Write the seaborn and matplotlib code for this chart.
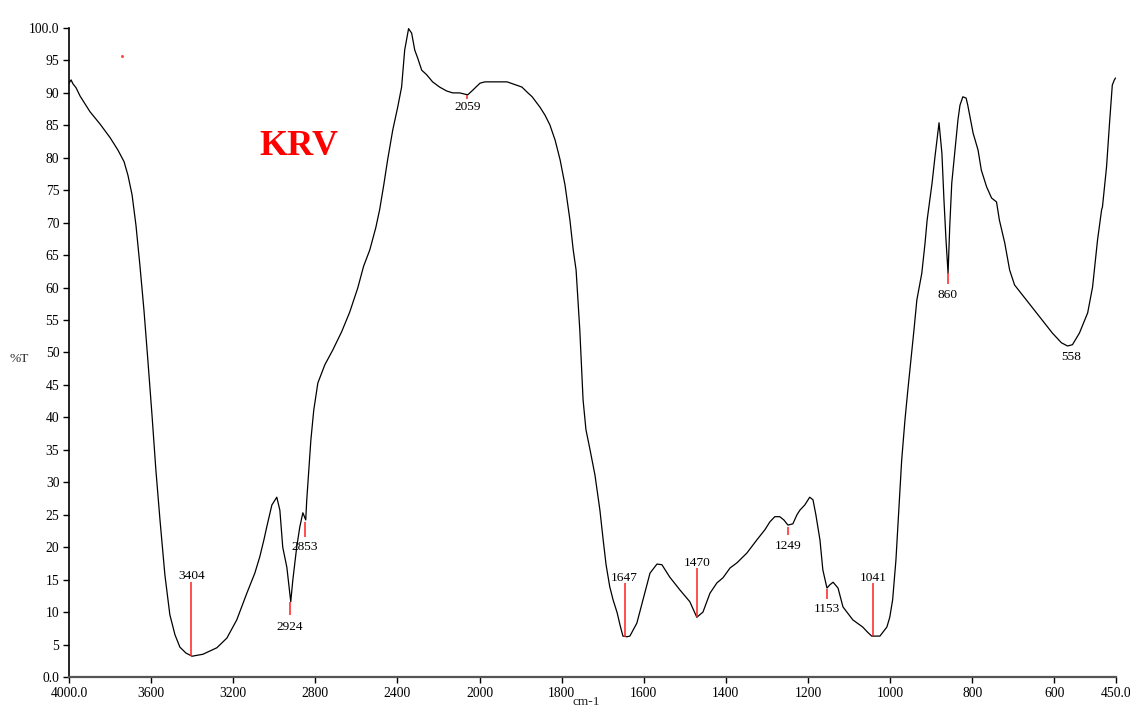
import numpy as np
import pandas as pd
import matplotlib
matplotlib.use("Agg")
import matplotlib.pyplot as plt
import seaborn as sns

# FTIR spectrum of sample KRV: wavenumber (cm-1) and transmittance (%T)
wavenumber = [
    4000, 3990, 3981, 3966, 3946, 3922, 3898, 3849, 3800, 3762, 3732, 3713,
    3693, 3674, 3655, 3635, 3616, 3596, 3577, 3557, 3533, 3509, 3484, 3460,
    3431, 3401, 3348, 3280, 3231, 3183, 3134, 3095, 3071, 3051, 3037, 3012,
    2988, 2973, 2959, 2939, 2920, 2910, 2891, 2876, 2861, 2847, 2842, 2832,
    2822, 2808, 2788, 2754, 2715, 2672, 2633, 2594, 2565, 2535, 2506, 2487,
    2467, 2448, 2423, 2399, 2380, 2365, 2346, 2331, 2316, 2302, 2282, 2258,
    2229, 2195, 2161, 2131, 2097, 2058, 2034, 1999, 1987, 1967, 1933, 1919,
    1897, 1884, 1872, 1860, 1853, 1841, 1829, 1816, 1804, 1792, 1780, 1772,
    1765, 1756, 1748, 1741, 1731, 1719, 1707, 1699, 1692, 1683, 1675, 1665,
    1658, 1651, 1641, 1634, 1617, 1602, 1585, 1568, 1556, 1537, 1512, 1488,
    1471, 1456, 1439, 1422, 1407, 1390, 1373, 1349, 1325, 1305, 1293, 1281,
    1269, 1259, 1249, 1237, 1227, 1220, 1208, 1196, 1188, 1181, 1171, 1164,
    1154, 1147, 1139, 1127, 1115, 1091, 1067, 1055, 1045, 1035, 1025, 1008,
    1001, 994, 986, 979, 972, 964, 957, 952, 947, 942, 935, 923, 915, 910,
    898, 891, 881, 874, 869, 864, 859, 855, 850, 842, 835, 830, 823, 815,
    811, 798, 786, 778, 765, 753, 741, 734, 721, 709, 697, 668, 636, 605,
    583, 568, 556, 539, 519, 507, 495, 485, 483, 473, 466, 459, 454, 451,
]
transmittance = [
    91.5, 92.0, 91.4, 90.8, 89.5, 88.3, 87.1, 85.2, 83.1, 81.2, 79.4, 77.3,
    74.3, 69.6, 63.5, 56.5, 48.8, 40.4, 31.9, 24.2, 15.7, 9.6, 6.5, 4.6,
    3.7, 3.2, 3.5, 4.5, 6.0, 8.8, 12.9, 16.0, 18.5, 21.1, 23.1, 26.5,
    27.7, 25.7, 20.0, 16.9, 11.6, 14.9, 20.0, 23.1, 25.3, 24.2, 27.3, 31.9,
    36.5, 41.1, 45.3, 48.1, 50.4, 53.2, 56.2, 59.9, 63.3, 65.8, 69.2, 72.0,
    75.8, 79.7, 84.3, 87.8, 90.9, 96.6, 99.9, 99.2, 96.6, 95.4, 93.5, 92.8,
    91.7, 90.9, 90.3, 90.0, 90.0, 89.7, 90.4, 91.5, 91.7, 91.7, 91.7, 91.4,
    90.9, 90.1, 89.4, 88.4, 87.8, 86.6, 85.1, 82.7, 79.7, 75.8, 70.4, 65.8,
    62.7, 53.5, 42.7, 38.1, 35.0, 31.1, 25.7, 21.1, 17.3, 13.9, 11.9, 9.9,
    8.0, 6.3, 6.2, 6.3, 8.3, 11.9, 16.0, 17.4, 17.3, 15.4, 13.4, 11.6,
    9.2, 10.0, 12.9, 14.5, 15.3, 16.8, 17.6, 19.1, 21.1, 22.7, 23.9, 24.7,
    24.7, 24.2, 23.4, 23.6, 25.0, 25.7, 26.5, 27.7, 27.3, 25.0, 21.1, 16.5,
    13.7, 14.2, 14.6, 13.7, 10.8, 8.8, 7.7, 6.9, 6.3, 6.3, 6.3, 7.7,
    9.2, 11.9, 18.0, 25.7, 33.4, 39.6, 44.2, 47.3, 50.4, 53.5, 58.1, 62.2, 66.9, 70.4,
    76.1, 80.1, 85.4, 80.7, 73.5, 67.3, 62.2, 69.3, 76.1, 81.2, 85.8, 88.1, 89.4, 89.2,
    88.1, 83.8, 81.2, 78.1, 75.5, 73.8, 73.2, 70.4, 66.9, 62.7, 60.4, 58.1, 55.5, 53.0,
    51.5, 51.0, 51.2, 53.0, 56.1, 60.1, 67.3, 72.0, 72.4, 78.6, 85.1, 91.2, 92.0, 92.3,
]

# Peak annotations: wavenumber, red marker span (%T) and label height (%T)
peak_wn = [3404, 2924, 2853, 2059, 1647, 1470, 1249, 1153, 1041, 860, 558]
peak_line_lo = [3.2, 9.6, 21.6, 89.0, 6.2, 9.2, 21.9, 12.0, 6.3, 60.6, None]
peak_line_hi = [14.6, 11.6, 23.9, 89.7, 14.5, 16.8, 23.1, 13.6, 14.5, 62.2, None]
peak_label_t = [15.6, 7.7, 20.0, 87.8, 15.3, 17.6, 20.2, 10.5, 15.3, 58.9, 49.3]

x_ticks = [4000, 3600, 3200, 2800, 2400, 2000, 1800, 1600, 1400, 1200, 1000, 800, 600, 450]
x_tick_labels = ["4000.0", "3600", "3200", "2800", "2400", "2000", "1800", "1600",
                 "1400", "1200", "1000", "800", "600", "450.0"]
y_ticks = list(range(0, 101, 5))
y_tick_labels = ["0.0"] + [str(v) for v in y_ticks[1:-1]] + ["100.0"]

sns.set_style("ticks")
plt.rcParams["font.family"] = ["Liberation Serif", "DejaVu Serif"]

fig = plt.figure(figsize=(11.3, 7.16), dpi=100)
ax = fig.add_axes([0.0611, 0.0545, 0.9265, 0.9064])

# Instrument-style abscissa: 2000 cm-1 and below is drawn at twice the scale
def fwd(x):
    x = np.asarray(x, dtype=float)
    return np.where(x > 2000, 2000 + (x - 2000) / 2.0, x)

def inv(u):
    u = np.asarray(u, dtype=float)
    return np.where(u > 2000, 2000 + (u - 2000) * 2.0, u)

df = pd.DataFrame({"wn": wavenumber, "T": transmittance})
sns.lineplot(data=df, x="wn", y="T", ax=ax, color="black", linewidth=0.9,
             estimator=None, sort=True)

ax.set_xscale("function", functions=(fwd, inv))
ax.set_xlim(4000, 450)
ax.set_ylim(0, 100)

for wn, lo, hi, lt in zip(peak_wn, peak_line_lo, peak_line_hi, peak_label_t):
    if lo is not None:
        ax.plot([wn, wn], [lo, hi], color="#ff2020", linewidth=1.1, solid_capstyle="butt")
    ax.text(wn, lt, str(wn), ha="center", va="center", fontsize=9.6, color="black")

ax.text(2880, 81.8, "KRV", color="#ff0000", fontsize=26, fontweight="bold",
        ha="center", va="center")
ax.plot([3742], [95.7], marker="s", markersize=1, color="#ff4040", linestyle="none")

ax.set_xticks(x_ticks)
ax.set_xticklabels(x_tick_labels)
ax.set_yticks(y_ticks)
ax.set_yticklabels(y_tick_labels)
ax.xaxis.set_minor_locator(matplotlib.ticker.NullLocator())
ax.tick_params(axis="both", which="major", direction="out", length=4, width=1,
               labelsize=9.8, colors="black", pad=3)

ax.set_xlabel("cm-1", fontsize=9.6)
ax.xaxis.set_label_coords(0.494, -0.0385)
ax.xaxis.label.set_va("center")
ax.set_ylabel("%T", fontsize=9.6, rotation=0)
ax.yaxis.set_label_coords(-0.048, 0.49)
ax.yaxis.label.set_va("center")
ax.yaxis.label.set_ha("center")

for side in ("top", "right"):
    ax.spines[side].set_visible(False)
ax.spines["left"].set_color("black")
ax.spines["left"].set_linewidth(1.2)
ax.spines["bottom"].set_color("#555555")
ax.spines["bottom"].set_linewidth(1.6)

fig.savefig("out.png", dpi=100)
